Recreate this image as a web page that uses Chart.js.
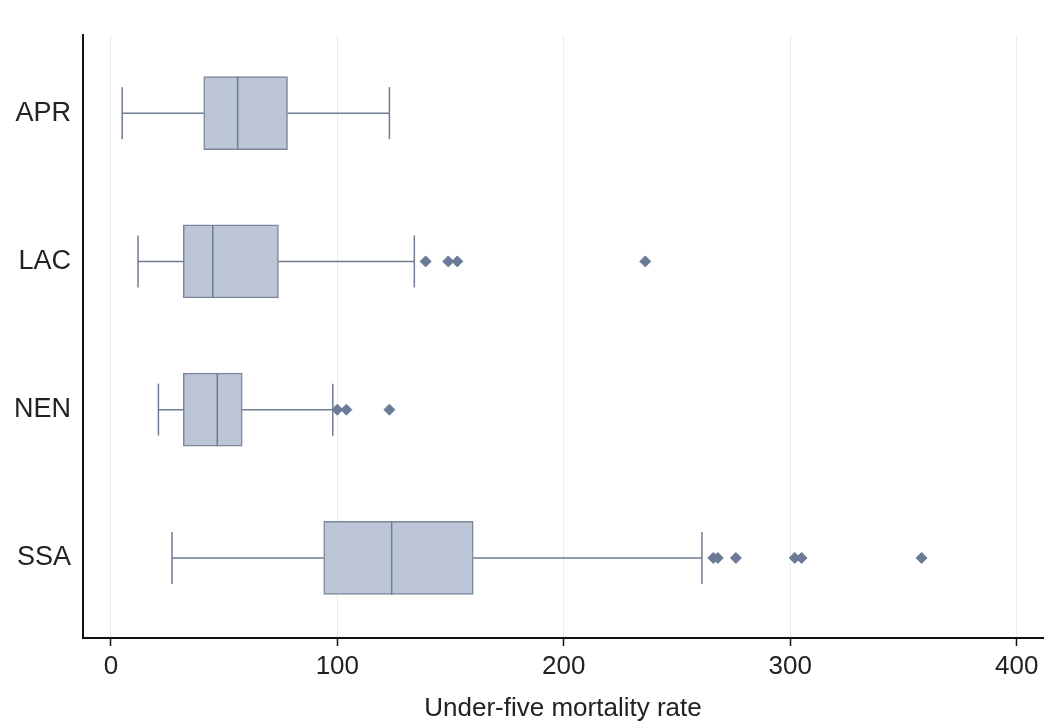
<!DOCTYPE html>
<html>
<head>
<meta charset="utf-8">
<script src="https://cdn.jsdelivr.net/npm/chart.js@4/dist/chart.umd.min.js"></script>
<style>
  html, body { margin: 0; padding: 0; background: #fff; }
  #wrap { width: 1060px; height: 728px; position: relative; }
</style>
</head>
<body>
<div id="wrap"><canvas id="boxChart"></canvas></div>
<script>
// box plot of under-five mortality by region
let categories = ['APR', 'LAC', 'NEN', 'SSA'];
let lowerWhisker = [5, 12, 21, 27];
let q1Values = [41, 32, 32, 94];
let medianValues = [56, 45, 47, 124];
let q3Values = [78, 74, 58, 160];
let upperWhisker = [123, 134, 98, 261];
let outliersAPR = [];
let outliersLAC = [139, 149, 153, 236];
let outliersNEN = [100, 104, 123];
let outliersSSA = [266, 268, 276, 302, 305, 358];
let xTickValues = [0, 100, 200, 300, 400];
let xTitle = 'Under-five mortality rate';

let boxFill = 'rgb(188,198,214)';
let lineColor = '#6f7c91';
let dotColor = '#6b7b97';

let outlierLists = [outliersAPR, outliersLAC, outliersNEN, outliersSSA];

// boxes from q1 to q3
let boxData = categories.map((c, i) => ({ x: [q1Values[i], q3Values[i]], y: i }));

// whisker lines, broken with null points between segments
let whiskerData = [];
categories.forEach((c, i) => {
    whiskerData.push({ x: lowerWhisker[i], y: i }, { x: q1Values[i], y: i }, { x: null, y: null });
    whiskerData.push({ x: q3Values[i], y: i }, { x: upperWhisker[i], y: i }, { x: null, y: null });
});

let capData = [];
categories.forEach((c, i) => {
    capData.push({ x: lowerWhisker[i], y: i }, { x: upperWhisker[i], y: i });
});

let medianData = categories.map((c, i) => ({ x: medianValues[i], y: i }));

let outlierData = [];
outlierLists.forEach((list, i) => {
    list.forEach(v => outlierData.push({ x: v, y: i }));
});

let ctx = document.getElementById('boxChart').getContext('2d');
let chart = new Chart(ctx, {
    type: 'scatter',
    data: {
        datasets: [
            {
                type: 'scatter',
                data: medianData,
                pointStyle: 'line',
                rotation: 90,
                pointRadius: 36.5,
                borderColor: lineColor,
                borderWidth: 1.5,
                order: 0
            },
            {
                type: 'scatter',
                data: capData,
                pointStyle: 'line',
                rotation: 90,
                pointRadius: 26,
                borderColor: lineColor,
                borderWidth: 1.5,
                order: 1
            },
            {
                type: 'scatter',
                data: outlierData,
                pointStyle: 'rectRot',
                pointRadius: 5.5,
                backgroundColor: dotColor,
                borderColor: dotColor,
                borderWidth: 1,
                order: 2
            },
            {
                type: 'scatter',
                data: whiskerData,
                showLine: true,
                spanGaps: false,
                pointRadius: 0,
                borderColor: lineColor,
                borderWidth: 1.5,
                order: 3
            },
            {
                type: 'bar',
                indexAxis: 'y',
                data: boxData,
                barThickness: 73,
                backgroundColor: boxFill,
                borderColor: '#7c879a',
                borderWidth: 1.5,
                borderSkipped: false,
                order: 4
            }
        ]
    },
    options: {
        responsive: true,
        maintainAspectRatio: false,
        animation: false,
        layout: {
            autoPadding: false,
            padding: { top: 35, right: 17, left: 0, bottom: 0 }
        },
        plugins: {
            legend: { display: false },
            tooltip: { enabled: false }
        },
        scales: {
            x: {
                type: 'linear',
                position: 'bottom',
                min: -12.3,
                max: 411.6,
                offset: false,
                afterBuildTicks: function (scale) {
                    scale.ticks = xTickValues.map(v => ({ value: v }));
                },
                afterFit: function (scale) {
                    scale.height = 90;
                    scale.paddingLeft = 0;
                    scale.paddingRight = 0;
                },
                grid: {
                    offset: false,
                    color: '#ebebeb',
                    lineWidth: 1,
                    drawTicks: true,
                    tickLength: 8,
                    tickColor: '#111',
                    tickWidth: 1.5
                },
                border: { display: true, color: '#111', width: 2 },
                ticks: {
                    color: '#222',
                    padding: 5,
                    maxRotation: 0,
                    font: { family: '"Liberation Sans", Arial, sans-serif', size: 26 }
                },
                title: {
                    display: true,
                    text: xTitle,
                    color: '#222',
                    padding: { top: 0, bottom: 4 },
                    font: { family: '"Liberation Sans", Arial, sans-serif', size: 26 }
                }
            },
            y: {
                type: 'linear',
                position: 'left',
                reverse: true,
                min: -0.527,
                max: 3.54,
                offset: false,
                afterBuildTicks: function (scale) {
                    scale.ticks = categories.map((c, i) => ({ value: i }));
                },
                afterFit: function (scale) {
                    scale.width = 83;
                    scale.paddingTop = 0;
                    scale.paddingBottom = 0;
                },
                grid: { display: false, drawTicks: false },
                border: { display: true, color: '#111', width: 2 },
                ticks: {
                    color: '#222',
                    padding: 12,
                    callback: function (value) {
                        return categories[value];
                    },
                    font: { family: '"Liberation Sans", Arial, sans-serif', size: 27 }
                }
            }
        }
    }
});
</script>
</body>
</html>
